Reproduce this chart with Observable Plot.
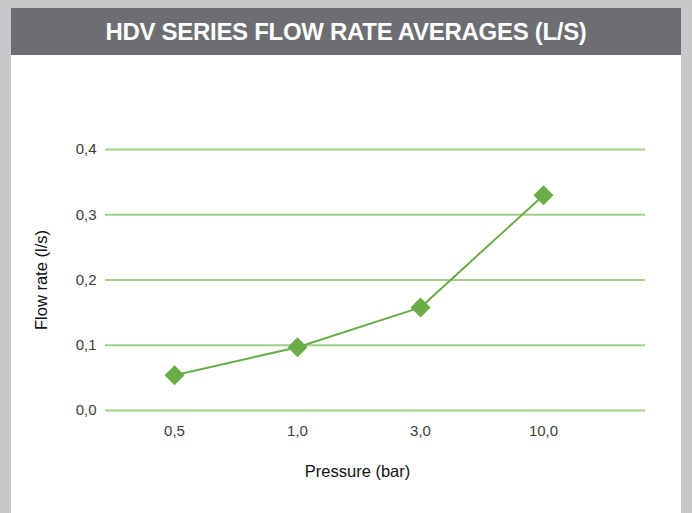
<!DOCTYPE html>
<html>
<head>
<meta charset="utf-8">
<script src="https://cdn.jsdelivr.net/npm/d3@7"></script>
<script src="https://cdn.jsdelivr.net/npm/@observablehq/plot@0.6"></script>
<style>
  html, body { margin: 0; padding: 0; background: #c7c8c9; }
  #wrap { position: absolute; left: 11px; top: 8px; width: 670px; height: 505px; background: #ffffff; }
  #title { height: 47px; background: #6d6e71; color: #ffffff; font-family: "Liberation Sans", Arial, sans-serif; font-weight: bold; font-size: 24px; line-height: 48px; text-align: center; letter-spacing: -0.3px; }
  #chart svg { display: block; }
</style>
</head>
<body>
<div id="wrap">
  <div id="title">HDV SERIES FLOW RATE AVERAGES (L/S)</div>
  <div id="chart"></div>
</div>
<script>
const pressures = ["0,5", "1,0", "3,0", "10,0"];
const flowRates = [0.054, 0.097, 0.158, 0.33];
const yTicks = [0, 0.1, 0.2, 0.3, 0.4];

const data = pressures.map((p, i) => ({pressure: p, flow: flowRates[i]}));
const fmt = d => d3.format(".1f")(d).replace(".", ",");

const chart = Plot.plot({
  width: 670,
  height: 458,
  marginLeft: 94,
  marginRight: 36,
  marginTop: 94,
  marginBottom: 103,
  style: {fontFamily: "Liberation Sans, Arial, sans-serif", fontSize: "15px", color: "#333", background: "#fff"},
  x: {type: "point", domain: pressures, range: [162, 532], padding: 0, label: null},
  y: {domain: [0, 0.4], label: null},
  marks: [
    Plot.ruleY(yTicks, {stroke: "#a0d08b", strokeWidth: 2}),
    Plot.axisY(yTicks, {tickSize: 0, tickPadding: 9, tickFormat: fmt, fill: "#3c3c3c", fontSize: 15,
      label: "Flow rate (l/s)", labelAnchor: "center", labelArrow: "none", labelOffset: 70}),
    Plot.axisX({tickSize: 0, tickPadding: 15, fill: "#3c3c3c", fontSize: 15, label: null}),
    Plot.text(["Pressure (bar)"], {frameAnchor: "bottom", lineAnchor: "bottom", dx: -18, dy: 66, fontSize: 16.5, fill: "#111"}),
    Plot.line(data, {x: "pressure", y: "flow", stroke: "#6aac45", strokeWidth: 2}),
    Plot.dot(data, {x: "pressure", y: "flow", symbol: "diamond2", r: 9, fill: "#6aac45", stroke: "none"})
  ]
});
document.getElementById("chart").appendChild(chart);
chart.querySelectorAll("g[aria-label='y-axis label'] text").forEach(t => {
  t.setAttribute("font-size", "16.5");
  t.setAttribute("fill", "#111");
});
</script>
</body>
</html>
